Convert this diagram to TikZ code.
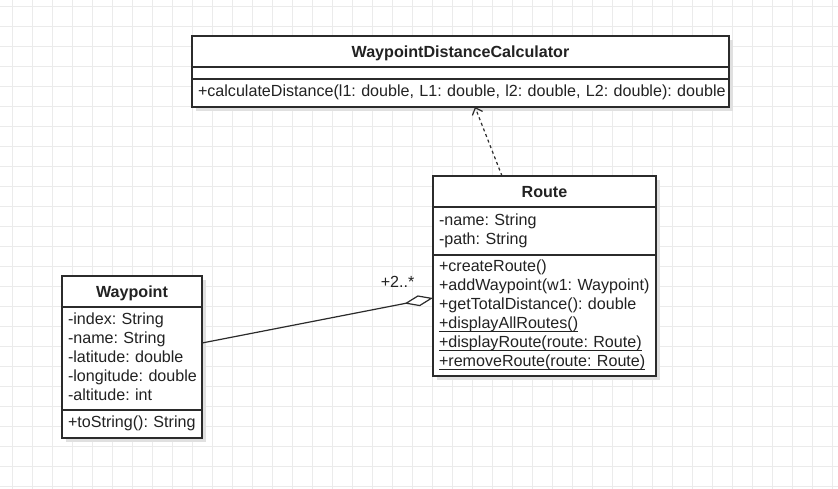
\documentclass[tikz,border=0pt]{standalone}
\usepackage{fontspec}
\setmainfont{Liberation Sans}
\usetikzlibrary{positioning,arrows.meta,shadows}
\frenchspacing
\newcommand{\umlrows}[1]{\begin{tabular}{@{}l@{}}#1\end{tabular}}
\newcommand{\umlstatic}[1]{\setbox0\hbox{#1}\rlap{\rule[-3.4pt]{\wd0}{1pt}}\box0}
\begin{document}
\begin{tikzpicture}[x=1pt,y=-1pt,
   umlpart/.style={draw=umlline, line width=1.2pt, fill=white, outer sep=0pt,
     inner xsep=6pt, inner ysep=0pt, anchor=north west, text=umltext,
     font=\fontsize{16.1}{19}\selectfont,
     drop shadow={shadow xshift=4pt, shadow yshift=-4pt, fill=black!12, opacity=1}},
   umltitle/.style={umlpart, minimum height=31pt, text height=11.6pt, text depth=0pt,
     font=\fontsize{16.1}{19}\selectfont\bfseries},
   umlmembers/.style={umlpart, align=left},
   dependency/.style={draw=umlline, line width=1.2pt, dash pattern=on 3pt off 3pt,
     -{Straight Barb[length=6pt,width=11pt]}},
   aggregation/.style={draw=umlline, line width=1.2pt,
     -{Diamond[fill=white,length=29pt,width=11pt]}}]
   \definecolor{umlline}{HTML}{2B2B2B}
   \definecolor{umltext}{HTML}{222222}
   \definecolor{gridline}{HTML}{EBEBEB}
   \useasboundingbox (0,0) rectangle (838,488);
   \fill [white] (0,0) rectangle (838,488);
   \begin{scope}
     \clip (0,0) rectangle (838,488);
     \draw [gridline, line width=1pt, shift={(12.5,6)}, step=20pt] (-20,-20) grid (840,500);
   \end{scope}
   % WaypointDistanceCalculator
   \node [umltitle, minimum width=537pt] (calctitle) at (192,36) {WaypointDistanceCalculator};
   \node [umlpart, minimum width=537pt, minimum height=12pt] (calcattrs) at (calctitle.south west) {};
   \node [umlmembers, text width=525pt, minimum height=28pt] (calcops) at (calcattrs.south west)
     {\umlrows{+calculateDistance(l1: double, L1: double, l2: double, L2: double): double}};
   % Route
   \node [umltitle, minimum width=223pt] (routetitle) at (433,176) {Route};
   \node [umlmembers, text width=211pt, minimum height=48pt] (routeattrs) at (routetitle.south west)
     {\umlrows{-name: String\\-path: String}};
   \node [umlmembers, text width=211pt, minimum height=121pt] (routeops) at (routeattrs.south west)
     {\umlrows{+createRoute()\\+addWaypoint(w1: Waypoint)\\+getTotalDistance(): double\\
       \umlstatic{+displayAllRoutes()}\\\umlstatic{+displayRoute(route: Route)}\\
       \umlstatic{+removeRoute(route: Route)}}};
   % Waypoint
   \node [umltitle, minimum width=140pt] (waypointtitle) at (62,276) {Waypoint};
   \node [umlmembers, text width=128pt, minimum height=103pt] (waypointattrs) at (waypointtitle.south west)
     {\umlrows{-index: String\\-name: String\\-latitude: double\\-longitude: double\\-altitude: int}};
   \node [umlmembers, text width=128pt, minimum height=28pt] (waypointops) at (waypointattrs.south west)
     {\umlrows{+toString(): String}};
   % relations
   \draw [dependency] ([xshift=69pt]routetitle.north west) -- ([xshift=283pt]calcops.south west);
   \draw [aggregation] ([yshift=15.5pt]waypointattrs.east) -- ([yshift=17.5pt]routeops.west)
     node [pos=1, anchor=south east, xshift=-18pt, yshift=10pt, inner sep=0pt, text=umltext,
       font=\fontsize{16.1}{19}\selectfont] (multiplicity) {+2..*};
\end{tikzpicture}
\end{document}
